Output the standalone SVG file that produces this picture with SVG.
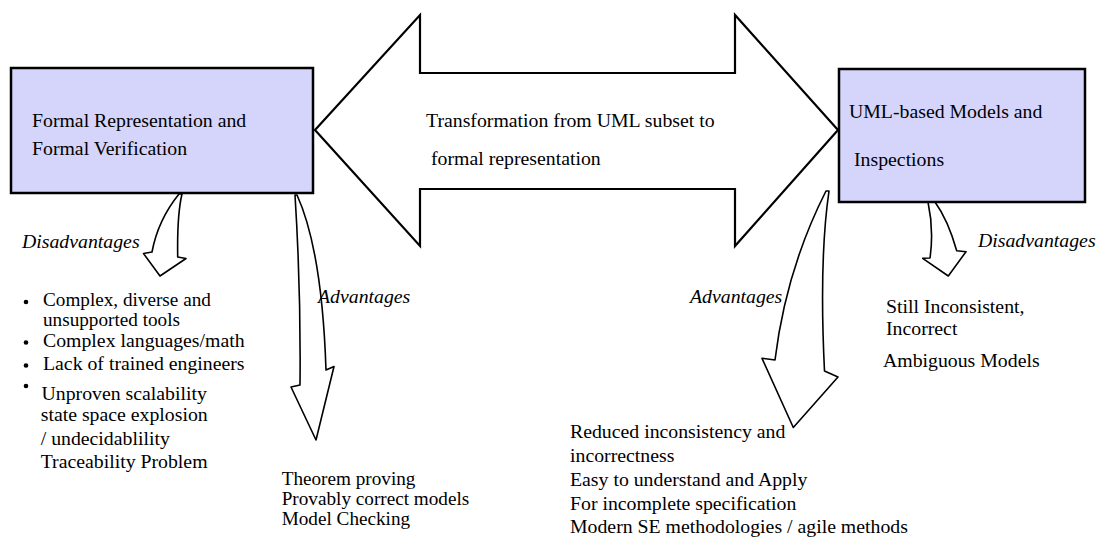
<svg xmlns="http://www.w3.org/2000/svg" width="1107" height="539" viewBox="0 0 1107 539">
<style>
.bg{fill:#ffffff}
.box{fill:#d5d5fb;stroke:#000;stroke-width:2.5}
.big{fill:#fff;stroke:#000;stroke-width:2.2;stroke-linejoin:miter}
.arr{fill:#fff;stroke:#000;stroke-width:1.6;stroke-linejoin:round}
text{font-family:"Liberation Serif","Times New Roman",serif;font-size:19.8px;fill:#000}
.it{font-style:italic}
.tight{font-size:19.2px}
.dot{fill:#000}
</style>
<rect class="bg" x="0" y="0" width="1107" height="539"/>
<g id="connectors">
  <path id="transform-arrow" class="big" d="M315,130 L420,15 L420,73 L735,73 L735,15 L838,130 L735,246 L735,189 L420,189 L420,246 Z"/>
  <path id="left-disadv-arrow" class="arr" d="M179,194 Q158,220 152,252 L143.5,253.5 L160,276 L186,258.5 L177.7,257 Q177,215 182,194 Z"/>
  <path id="left-adv-arrow" class="arr" d="M295,195 Q301,290 300,385 L291,387 L316,440 L334,366.5 L326,370 Q322,250 297,195 Z"/>
  <path id="right-adv-arrow" class="arr" d="M826,191 Q786,270 775,360 L762,358.3 L793.3,427.5 L838,377 L824.5,371 Q819,260 829,191 Z"/>
  <path id="right-disadv-arrow" class="arr" d="M928,202 Q934,230 930,258 L922.7,258.3 L948.3,276 L966,251.7 L956.7,250.7 Q948,220 935,202 Z"/>
</g>
<g id="formal-node">
  <rect class="box" x="11" y="68" width="302" height="125"/>
  <text x="32" y="127">Formal Representation and</text>
  <text x="32" y="155">Formal Verification</text>
</g>
<g id="uml-node">
  <rect class="box" x="839" y="69" width="246" height="133"/>
  <text x="849" y="118">UML-based Models and</text>
  <text x="854" y="166">Inspections</text>
</g>
<g id="transform-label">
  <text x="426" y="127">Transformation from UML subset to</text>
  <text x="431" y="165">formal representation</text>
</g>
<g id="labels">
  <text class="it" x="22" y="248">Disadvantages</text>
  <text class="it" x="318" y="303">Advantages</text>
  <text class="it" x="690" y="303">Advantages</text>
  <text class="it" x="978" y="247">Disadvantages</text>
</g>
<g id="formal-disadvantages">
  <circle class="dot" cx="26" cy="302" r="2.3"/>
  <circle class="dot" cx="26" cy="342.5" r="2.3"/>
  <circle class="dot" cx="26" cy="365.5" r="2.3"/>
  <circle class="dot" cx="26" cy="386" r="2.3"/>
  <text class="tight" x="43" y="305.5">Complex, diverse and</text>
  <text class="tight" x="43" y="326">unsupported tools</text>
  <text x="43" y="347">Complex languages/math</text>
  <text x="43" y="370">Lack of trained engineers</text>
  <text x="41.5" y="399.5">Unproven scalability</text>
  <text x="40.7" y="421">state space explosion</text>
  <text x="40.7" y="444.5">/ undecidablility</text>
  <text x="40.7" y="467.5">Traceability Problem</text>
</g>
<g id="formal-advantages">
  <text class="tight" x="281.7" y="484.5">Theorem proving</text>
  <text class="tight" x="281.7" y="504.5">Provably correct models</text>
  <text class="tight" x="281.7" y="524.5">Model Checking</text>
</g>
<g id="uml-advantages">
  <text x="570" y="438">Reduced inconsistency and</text>
  <text x="570" y="462">incorrectness</text>
  <text x="570" y="486">Easy to understand and Apply</text>
  <text x="570" y="510">For incomplete specification</text>
  <text x="570" y="533">Modern SE methodologies / agile methods</text>
</g>
<g id="uml-disadvantages">
  <text x="886" y="313">Still Inconsistent,</text>
  <text x="886" y="335">Incorrect</text>
  <text x="883" y="367">Ambiguous Models</text>
</g>
</svg>
